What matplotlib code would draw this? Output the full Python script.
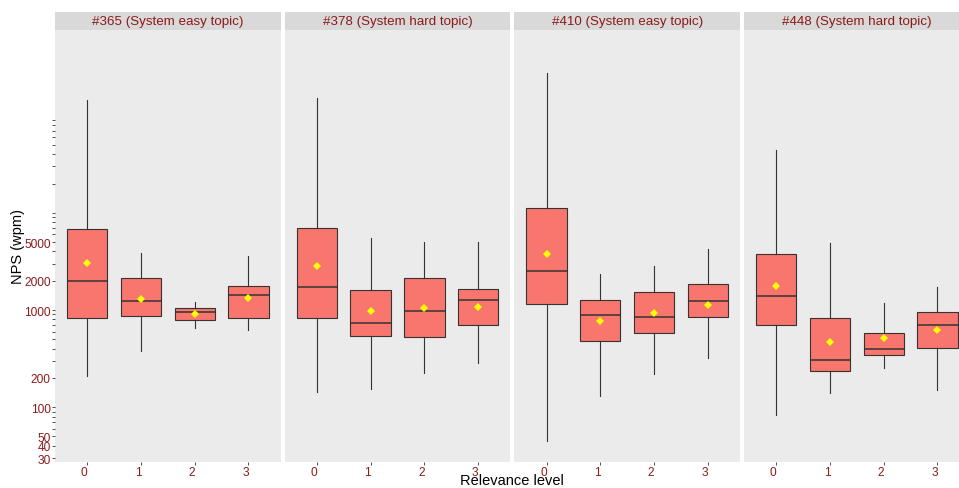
import matplotlib
matplotlib.use("Agg")
import matplotlib.pyplot as plt
from matplotlib.transforms import ScaledTranslation

plt.rcParams['font.family'] = ['Liberation Sans', 'DejaVu Sans']

topics = ["#365 (System easy topic)", "#378 (System hard topic)",
          "#410 (System easy topic)", "#448 (System hard topic)"]
levels = ["0", "1", "2", "3"]

# per topic: values for relevance levels 0..3
whishi = [[144500, 3860, 1210, 3590],
          [150600, 5540, 4970, 4970],
          [274400, 2330, 2860, 4210],
          [44570, 4860, 1170, 1740]]
q3 = [[6770, 2130, 1056, 1766],
      [6980, 1606, 2134, 1633],
      [11200, 1259, 1543, 1865],
      [3742, 827, 580, 954]]
med = [[1988, 1238, 947, 1437],
       [1737, 730, 970, 1259],
       [2502, 889, 853, 1247],
       [1384, 304, 400, 696]]
mean = [[3068, 1289, 909, 1339],
        [2816, 984, 1056, 1074],
        [3767, 771, 931, 1117],
        [1754, 465, 512, 623]]
q1 = [[833, 861, 795, 833],
      [833, 540, 524, 701],
      [1144, 476, 576, 841],
      [706, 236, 344, 404]]
whislo = [[211, 376, 648, 618],
          [144, 154, 223, 283],
          [44.6, 130, 218, 319],
          [82.6, 139, 253, 149]]

ytick_vals = [30, 40, 50, 60, 70, 80, 90, 100, 200, 300, 400, 500, 600, 700,
              800, 900, 1000, 2000, 3000, 4000, 5000, 6000, 7000, 8000, 9000,
              10000, 20000, 30000, 40000, 50000, 60000, 70000, 80000, 90000]
ytick_labeled = [30, 40, 50, 100, 200, 1000, 2000, 5000]

W, H = 959, 489
fig = plt.figure(figsize=(W / 100, H / 100), dpi=100)
fig.patch.set_facecolor('white')

red = '#8B1A1A'
dark = '#333333'
pan_left0 = 55
pan_step = 229.67
pan_w = 225.7
pan_top = 31
pan_bot = 462.7
strip_top = 13

for i, topic in enumerate(topics):
    left = (pan_left0 + i * pan_step) / W
    ax = fig.add_axes([left, (H - pan_bot) / H, pan_w / W, (pan_bot - pan_top) / H])
    ax.set_facecolor('#EBEBEB')
    stats = []
    for j, lv in enumerate(levels):
        stats.append(dict(med=med[i][j], q1=q1[i][j], q3=q3[i][j],
                          whislo=whislo[i][j], whishi=whishi[i][j],
                          mean=mean[i][j], fliers=[], label=lv))
    ax.bxp(stats, positions=range(len(levels)), widths=0.75, patch_artist=True,
           showcaps=False, showmeans=True, showfliers=False,
           boxprops=dict(facecolor='#F8766D', edgecolor=dark, linewidth=0.8),
           whiskerprops=dict(color=dark, linewidth=0.8),
           medianprops=dict(color=dark, linewidth=1.1),
           meanprops=dict(marker='D', markerfacecolor='#FFFF00',
                          markeredgewidth=0, markersize=4.4))
    ax.set_yscale('log')
    ax.set_ylim(27.5, 760000)
    ax.set_xlim(-0.6, 3.6)
    for s in ax.spines.values():
        s.set_visible(False)
    ax.set_xticks(range(len(levels)))
    ax.set_xticklabels(levels, color=red, fontsize=8.6)
    ax.tick_params(axis='x', length=2.4, width=0.6, color=dark, pad=0.6)
    off = ScaledTranslation(-3 / 100, 0, fig.dpi_scale_trans)
    for lab in ax.get_xticklabels():
        lab.set_transform(lab.get_transform() + off)
    ax.yaxis.set_minor_locator(matplotlib.ticker.NullLocator())
    if i == 0:
        ax.set_yticks(ytick_vals)
        ax.set_yticklabels([str(v) if v in ytick_labeled else '' for v in ytick_vals],
                           color=red, fontsize=8.6)
        ax.tick_params(axis='y', length=2.4, width=0.6, color=dark, pad=0.8)
    else:
        ax.set_yticks([])
    # strip
    sax = fig.add_axes([left, (H - pan_top) / H, pan_w / W, (pan_top - strip_top) / H])
    sax.set_facecolor('#D9D9D9')
    sax.set_xticks([]); sax.set_yticks([])
    for s in sax.spines.values():
        s.set_visible(False)
    sax.text(0.5, 0.5, topic, ha='center', va='center', color=red, fontsize=9.6,
             transform=sax.transAxes)

fig.text(18 / W, 1 - ((pan_top + pan_bot) / 2) / H, 'NPS (wpm)', rotation=90,
         ha='center', va='center', fontsize=10.5, color='black')
fig.text(512 / W, 1 - 481.5 / H, 'Relevance level', ha='center', va='center',
         fontsize=10.5, color='black')

fig.savefig('out.png', dpi=100)
